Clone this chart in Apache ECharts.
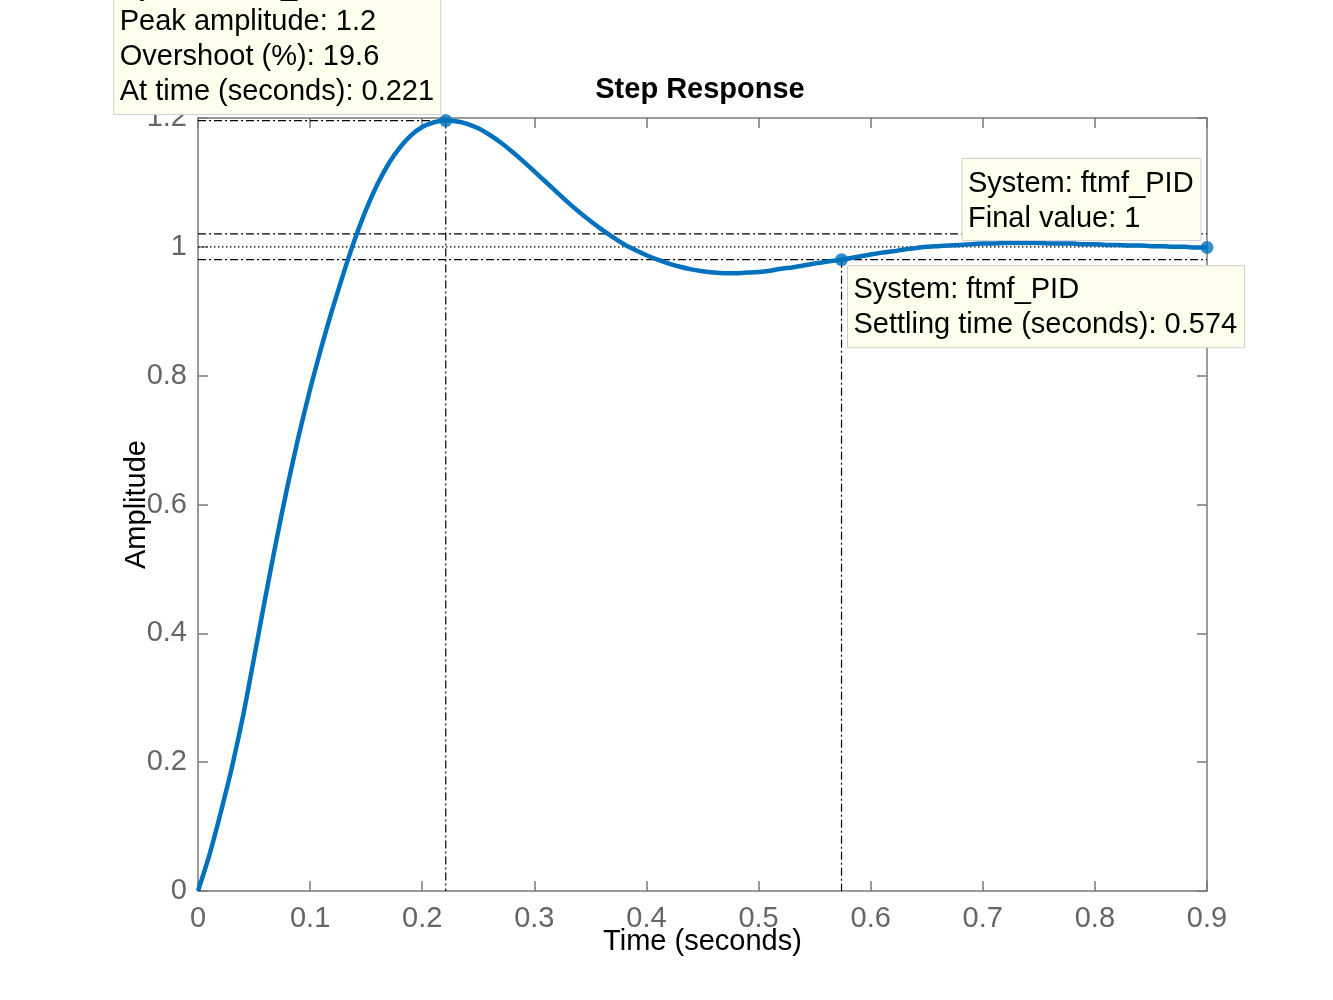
<!DOCTYPE html>
<html>
<head>
<meta charset="utf-8">
<script src="https://cdn.jsdelivr.net/npm/echarts@6/dist/echarts.min.js"></script>
<style>
html,body{margin:0;padding:0;background:#fff;}
#chart{width:1333px;height:1000px;}
</style>
</head>
<body>
<div id="chart"></div>
<script>
// ---- data ----
const times = [0,0.01,0.02,0.03,0.04,0.05,0.06,0.07,0.08,0.09,
  0.10,0.11,0.12,0.13,0.14,0.15,0.16,0.17,0.18,0.19,
  0.20,0.21,0.22,0.23,0.24,0.25,0.26,0.27,0.28,0.29,
  0.30,0.31,0.32,0.33,0.34,0.35,0.36,0.37,0.38,0.39,
  0.40,0.41,0.42,0.43,0.44,0.45,0.46,0.47,0.48,0.49,
  0.50,0.51,0.52,0.53,0.54,0.55,0.56,0.57,0.58,0.59,
  0.60,0.61,0.62,0.63,0.64,0.65,0.66,0.67,0.68,0.69,
  0.70,0.71,0.72,0.73,0.74,0.75,0.76,0.77,0.78,0.79,
  0.80,0.81,0.82,0.83,0.84,0.85,0.86,0.87,0.88,0.89,0.90];
const amplitude = [0,0.055,0.12,0.19,0.27,0.362,0.455,0.545,0.63,0.708,
  0.779,0.844,0.904,0.96,1.012,1.058,1.097,1.129,1.154,1.173,
  1.186,1.193,1.196,1.195,1.191,1.184,1.174,1.162,1.148,1.133,
  1.117,1.101,1.085,1.069,1.054,1.04,1.027,1.015,1.004,0.995,
  0.987,0.98,0.974,0.969,0.965,0.962,0.96,0.959,0.959,0.96,
  0.961,0.963,0.966,0.968,0.971,0.974,0.977,0.979,0.982,0.985,
  0.988,0.991,0.993,0.996,0.998,1.0,1.001,1.002,1.003,1.004,
  1.005,1.005,1.006,1.006,1.006,1.006,1.005,1.005,1.005,1.004,
  1.004,1.003,1.003,1.002,1.002,1.001,1.001,1.0,1.0,0.999,0.999];
const xTicks = {min:0, max:0.9, interval:0.1};
const yTicks = {min:0, max:1.2, interval:0.2};
const peakTime = 0.221, peakValue = 1.196;
const settleTime = 0.574, settleValue = 0.98;
const finalTime = 0.9, finalValue = 1, finalCurveValue = 0.999;
const bandLow = 0.98, bandHigh = 1.02;
const peakText = ['System: ftmf_PID','Peak amplitude: 1.2','Overshoot (%): 19.6','At time (seconds): 0.221'];
const finalText = ['System: ftmf_PID','Final value: 1'];
const settleText = ['System: ftmf_PID','Settling time (seconds): 0.574'];

const FONT = "'Liberation Sans', Arial, Helvetica, sans-serif";
const FS = 29;
const AXIS_GRAY = '#7a7a7a';
const LABEL_GRAY = '#666666';
const BLUE = '#0072BD';
const DASHDOT = [8,3,2,3];

const curve = times.map((t,i)=>[t, amplitude[i]]);

function refLine(data, type){
  return {type:'line', data:data, symbol:'none', silent:true, z:1,
    lineStyle:{color:'#000', width:1.2, type:type}, animation:false};
}

const chart = echarts.init(document.getElementById('chart'), null, {renderer:'canvas'});

function axisCommon(){
  return {
    axisLine:{show:true, onZero:false, lineStyle:{color:AXIS_GRAY, width:1.5}},
    axisTick:{show:true, inside:true, length:10, lineStyle:{color:AXIS_GRAY, width:1.5}},
    splitLine:{show:false}
  };
}

chart.setOption({
  animation:false,
  backgroundColor:'#fff',
  title:{text:'Step Response', left:695, top:70, textAlign:'center',
    textStyle:{fontFamily:FONT, fontSize:FS, fontWeight:'bold', color:'#000'}},
  grid:{left:198, right:126, top:118, bottom:109, containLabel:false},
  xAxis:[
    Object.assign({type:'value', position:'bottom', min:xTicks.min, max:xTicks.max, interval:xTicks.interval,
      name:'Time (seconds)', nameLocation:'middle', nameGap:36, nameMoveOverlap:false,
      nameTextStyle:{fontFamily:FONT, fontSize:FS, color:'#000'},
      axisLabel:{fontFamily:FONT, fontSize:FS, color:LABEL_GRAY, margin:13}}, axisCommon()),
    Object.assign({type:'value', position:'top', min:xTicks.min, max:xTicks.max, interval:xTicks.interval,
      axisLabel:{show:false}}, axisCommon())
  ],
  yAxis:[
    Object.assign({type:'value', position:'left', min:yTicks.min, max:yTicks.max, interval:yTicks.interval,
      name:'Amplitude', nameLocation:'middle', nameGap:47, nameRotate:90, nameMoveOverlap:false,
      nameTextStyle:{fontFamily:FONT, fontSize:FS, color:'#000'},
      axisLabel:{fontFamily:FONT, fontSize:FS, color:LABEL_GRAY, margin:11}}, axisCommon()),
    Object.assign({type:'value', position:'right', min:yTicks.min, max:yTicks.max, interval:yTicks.interval,
      axisLabel:{show:false}}, axisCommon())
  ],
  series:[
    refLine([[xTicks.min,peakValue],[peakTime,peakValue]], DASHDOT),
    refLine([[peakTime,peakValue],[peakTime,yTicks.min]], DASHDOT),
    refLine([[xTicks.min,bandHigh],[xTicks.max,bandHigh]], DASHDOT),
    refLine([[xTicks.min,bandLow],[xTicks.max,bandLow]], DASHDOT),
    refLine([[xTicks.min,finalValue],[xTicks.max,finalValue]], [1.5,2.5]),
    refLine([[settleTime,settleValue],[settleTime,yTicks.min]], DASHDOT),
    {type:'line', data:curve, symbol:'none', smooth:0.2, z:3,
      lineStyle:{color:BLUE, width:4.5}, animation:false},
    {type:'scatter', z:4, symbol:'circle', symbolSize:13,
      itemStyle:{color:BLUE},
      data:[[peakTime,peakValue],[settleTime,settleValue],[finalTime,finalCurveValue]]}
  ]
});

// ---- data tips, anchored to their points ----
function tip(anchor, dx, dy, w, h, lines, firstY, lineH){
  const p = chart.convertToPixel({gridIndex:0}, anchor);
  const x0 = p[0] + dx, y0 = p[1] + dy;
  const els = [{type:'rect', z:100, shape:{x:x0, y:y0, width:w, height:h},
    style:{fill:'#ffffee', stroke:'#cfcfcf', lineWidth:1}}];
  lines.forEach((t,i)=>{
    els.push({type:'text', z:101, x:x0+6, y:y0+firstY+i*lineH,
      style:{text:t, font:FS+'px '+FONT, fill:'#000', textAlign:'left', textVerticalAlign:'middle', align:'left', verticalAlign:'middle'}});
  });
  return els;
}

const graphics = []
  .concat(tip([peakTime,peakValue], -332, -150, 327, 144, peakText, 16, 35))
  .concat(tip([finalTime,finalCurveValue], -245, -89, 239, 82, finalText, 26, 35))
  .concat(tip([settleTime,settleValue], 6, 6, 397, 82, settleText, 24, 35));
chart.setOption({graphic:graphics});
</script>
</body>
</html>
